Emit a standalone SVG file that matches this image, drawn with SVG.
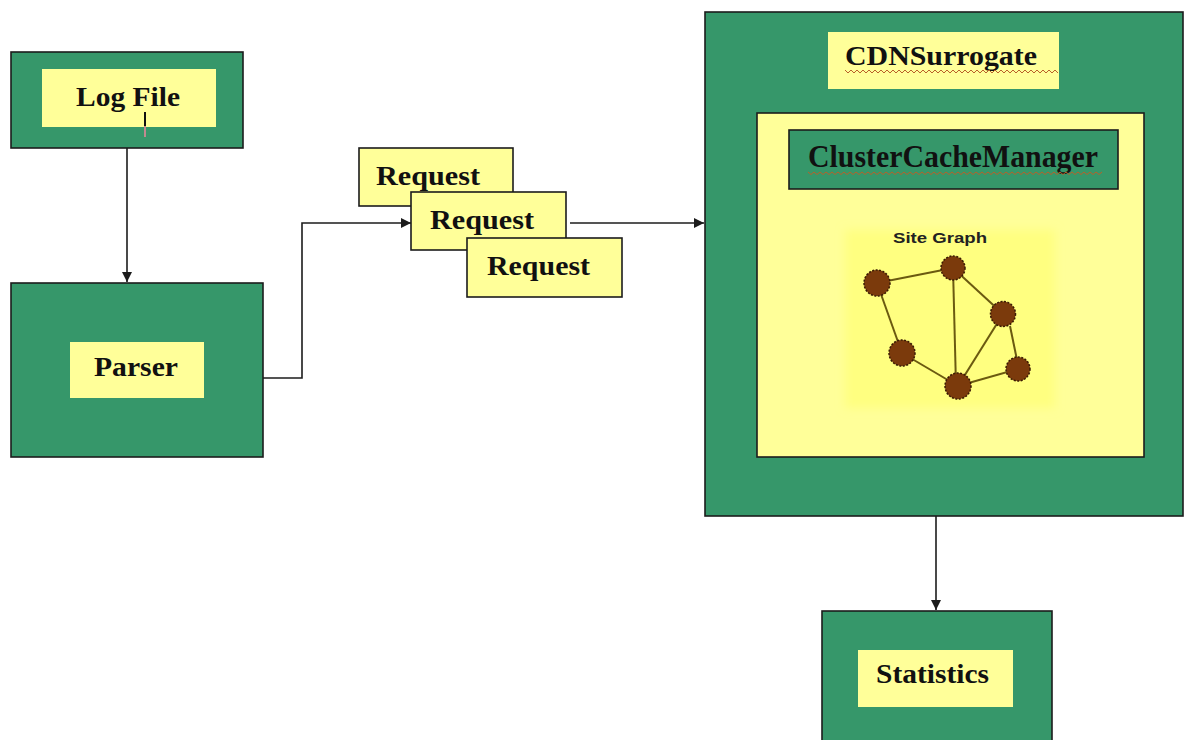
<svg xmlns="http://www.w3.org/2000/svg" width="1184" height="740" viewBox="0 0 1184 740">
  <style>
    .outer { fill: #36976a; stroke: #1c1c1c; stroke-width: 1.6; }
    .pad { fill: #ffff99; stroke: none; }
    .panel { fill: #ffff99; stroke: #1c1c1c; stroke-width: 1.6; }
    .req { fill: #ffff99; stroke: #1c1c1c; stroke-width: 1.6; }
    .lbl { font-family: "Liberation Serif", "Times New Roman", serif; font-weight: bold; fill: #111; }
    .wire { fill: none; stroke: #1c1c1c; stroke-width: 1.6; }
    .edge { stroke: #6b5a10; stroke-width: 2; }
    .vertex { fill: #7b3a0c; stroke: #3a1a04; stroke-width: 1.5; stroke-dasharray: 2 1.5; }
    .squiggle { fill: none; stroke: #b8602a; stroke-width: 1; }
  </style>
  <defs>
    <marker id="arrow" viewBox="0 0 10 10" refX="10" refY="5" markerWidth="10" markerHeight="10" markerUnits="userSpaceOnUse" orient="auto">
      <path d="M0,0 L10,5 L0,10 z" fill="#1c1c1c"/>
    </marker>
    <filter id="soft" x="-10%" y="-10%" width="120%" height="120%">
      <feGaussianBlur stdDeviation="5"/>
    </filter>
  </defs>

  <rect width="1184" height="740" fill="#ffffff"/>

  <!-- connectors -->
  <g id="connectors">
    <path class="wire" d="M127,148 V282" marker-end="url(#arrow)"/>
    <path class="wire" d="M263,378 H302 V223 H411" marker-end="url(#arrow)"/>
    <path class="wire" d="M570,223 H704" marker-end="url(#arrow)"/>
    <path class="wire" d="M936,516 V610" marker-end="url(#arrow)"/>
  </g>

  <!-- log file source -->
  <g id="logfile">
    <rect class="outer" x="11" y="52" width="232" height="96"/>
    <rect class="pad" x="42" y="69" width="174" height="58"/>
    <text class="lbl" x="76" y="106" font-size="27" textLength="104" lengthAdjust="spacingAndGlyphs">Log File</text>
    <line x1="145" y1="112" x2="145" y2="126" stroke="#111" stroke-width="2"/>
    <line x1="145" y1="126" x2="145" y2="137" stroke="#c08a90" stroke-width="2"/>
  </g>

  <!-- parser -->
  <g id="parser">
    <rect class="outer" x="11" y="283" width="252" height="174"/>
    <rect class="pad" x="70" y="342" width="134" height="56"/>
    <text class="lbl" x="94" y="376" font-size="27" textLength="84" lengthAdjust="spacingAndGlyphs">Parser</text>
  </g>

  <!-- stacked requests -->
  <g id="request1">
    <rect class="req" x="359" y="148" width="154" height="58"/>
    <text class="lbl" x="376" y="185" font-size="27" textLength="104" lengthAdjust="spacingAndGlyphs">Request</text>
  </g>
  <g id="request2">
    <rect class="req" x="411" y="192" width="155" height="58"/>
    <text class="lbl" x="430" y="229" font-size="27" textLength="104" lengthAdjust="spacingAndGlyphs">Request</text>
  </g>
  <g id="request3">
    <rect class="req" x="467" y="238" width="155" height="59"/>
    <text class="lbl" x="487" y="275" font-size="27" textLength="103" lengthAdjust="spacingAndGlyphs">Request</text>
  </g>

  <!-- CDN surrogate with cache manager and site graph -->
  <g id="cdnsurrogate">
    <rect class="outer" x="705" y="12" width="478" height="504"/>
    <rect class="pad" x="828" y="32" width="231" height="57"/>
    <text class="lbl" x="845" y="65" font-size="28" textLength="192" lengthAdjust="spacingAndGlyphs">CDNSurrogate</text>
    <path class="squiggle" d="M845,70 l3,3 l3,-3 l3,3 l3,-3 l3,3 l3,-3 l3,3 l3,-3 l3,3 l3,-3 l3,3 l3,-3 l3,3 l3,-3 l3,3 l3,-3 l3,3 l3,-3 l3,3 l3,-3 l3,3 l3,-3 l3,3 l3,-3 l3,3 l3,-3 l3,3 l3,-3 l3,3 l3,-3 l3,3 l3,-3 l3,3 l3,-3 l3,3 l3,-3 l3,3 l3,-3 l3,3 l3,-3 l3,3 l3,-3 l3,3 l3,-3 l3,3 l3,-3 l3,3 l3,-3 l3,3 l3,-3 l3,3 l3,-3 l3,3 l3,-3 l3,3 l3,-3 l3,3 l3,-3 l3,3 l3,-3 l3,3 l3,-3 l3,3 l3,-3 l3,3 l3,-3 l3,3 l3,-3 l3,3 l3,-3 l3,3"/>
  </g>

  <g id="clustercachemanager">
    <rect class="panel" x="757" y="113" width="387" height="344"/>
    <rect class="outer" x="789" y="130" width="329" height="59"/>
    <text class="lbl" x="808" y="167" font-size="32" fill="#0f2a1a" textLength="290" lengthAdjust="spacingAndGlyphs">ClusterCacheManager</text>
    <path class="squiggle" d="M808,172 l3,2.5 l3,-2.5 l3,2.5 l3,-2.5 l3,2.5 l3,-2.5 l3,2.5 l3,-2.5 l3,2.5 l3,-2.5 l3,2.5 l3,-2.5 l3,2.5 l3,-2.5 l3,2.5 l3,-2.5 l3,2.5 l3,-2.5 l3,2.5 l3,-2.5 l3,2.5 l3,-2.5 l3,2.5 l3,-2.5 l3,2.5 l3,-2.5 l3,2.5 l3,-2.5 l3,2.5 l3,-2.5 l3,2.5 l3,-2.5 l3,2.5 l3,-2.5 l3,2.5 l3,-2.5 l3,2.5 l3,-2.5 l3,2.5 l3,-2.5 l3,2.5 l3,-2.5 l3,2.5 l3,-2.5 l3,2.5 l3,-2.5 l3,2.5 l3,-2.5 l3,2.5 l3,-2.5 l3,2.5 l3,-2.5 l3,2.5 l3,-2.5 l3,2.5 l3,-2.5 l3,2.5 l3,-2.5 l3,2.5 l3,-2.5 l3,2.5 l3,-2.5 l3,2.5 l3,-2.5 l3,2.5 l3,-2.5 l3,2.5 l3,-2.5 l3,2.5 l3,-2.5 l3,2.5 l3,-2.5 l3,2.5 l3,-2.5 l3,2.5 l3,-2.5 l3,2.5 l3,-2.5 l3,2.5 l3,-2.5 l3,2.5 l3,-2.5 l3,2.5 l3,-2.5 l3,2.5 l3,-2.5 l3,2.5 l3,-2.5 l3,2.5 l3,-2.5 l3,2.5 l3,-2.5 l3,2.5 l3,-2.5 l3,2.5 l3,-2.5 l3,2.5 l3,-2.5"/>
  </g>

  <g id="sitegraph">
    <rect x="845" y="230" width="210" height="178" fill="#ffff80" filter="url(#soft)"/>
    <text x="893" y="243" font-family="'Liberation Sans', Arial, sans-serif" font-weight="bold" font-size="15" fill="#222" textLength="94" lengthAdjust="spacingAndGlyphs">Site Graph</text>
    <g class="edge">
      <line x1="877" y1="283" x2="953" y2="268"/>
      <line x1="877" y1="283" x2="902" y2="353"/>
      <line x1="953" y1="268" x2="956" y2="386"/>
      <line x1="953" y1="268" x2="1003" y2="314"/>
      <line x1="1003" y1="314" x2="958" y2="386"/>
      <line x1="1010" y1="326" x2="1017" y2="360"/>
      <line x1="902" y1="353" x2="958" y2="386"/>
      <line x1="958" y1="386" x2="1018" y2="369"/>
    </g>
    <circle class="vertex" cx="877" cy="283" r="13"/>
    <circle class="vertex" cx="953" cy="268" r="12"/>
    <circle class="vertex" cx="1003" cy="314" r="12.5"/>
    <circle class="vertex" cx="902" cy="353" r="13"/>
    <circle class="vertex" cx="958" cy="386" r="13"/>
    <circle class="vertex" cx="1018" cy="369" r="12"/>
  </g>

  <!-- statistics -->
  <g id="statistics">
    <rect class="outer" x="822" y="611" width="230" height="140"/>
    <rect class="pad" x="858" y="650" width="155" height="57"/>
    <text class="lbl" x="876" y="683" font-size="27" textLength="113" lengthAdjust="spacingAndGlyphs">Statistics</text>
  </g>
</svg>
